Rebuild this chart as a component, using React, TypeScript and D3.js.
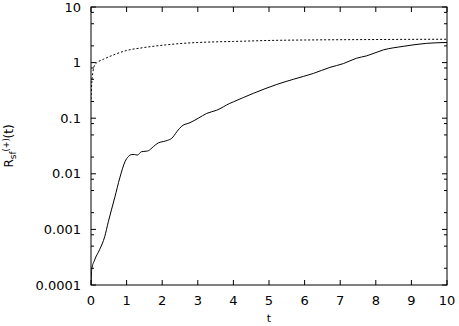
import React from "react";
import * as d3 from "d3";

const xTicks = [0, 1, 2, 3, 4, 5, 6, 7, 8, 9, 10];
const yTicks = [0.0001, 0.001, 0.01, 0.1, 1, 10];
const yTickLabels = ["0.0001", "0.001", "0.01", "0.1", "1", "10"];
const minorMultipliers = [2, 5, 8];

const dashedT = [0, 0.02, 0.05, 0.1, 0.2, 0.35, 0.6, 1, 1.5, 2, 2.5, 3, 3.5, 4, 5, 6, 7, 8, 9, 10];
const dashedV = [0.22, 0.42, 0.65, 0.9, 1.03, 1.15, 1.35, 1.65, 1.87, 2.05, 2.2, 2.3, 2.36, 2.4, 2.5, 2.55, 2.58, 2.6, 2.62, 2.63];

const solidT = [0, 0.02, 0.1, 0.24, 0.385, 0.49, 0.67, 0.81, 0.955, 1.05, 1.15, 1.22, 1.3, 1.42, 1.55, 1.61, 1.75, 1.89, 2.03, 2.15, 2.27, 2.41, 2.55, 2.78, 3.01, 3.25, 3.53, 3.9, 4.0, 4.56, 5.22, 5.68, 6.25, 6.71, 7.09, 7.46, 7.74, 8.21, 8.77, 9.43, 10];
const solidV = [0.0001, 0.00019, 0.00028, 0.00043, 0.00074, 0.0014, 0.0038, 0.0085, 0.0165, 0.0205, 0.0222, 0.0222, 0.0217, 0.025, 0.0255, 0.026, 0.0307, 0.036, 0.038, 0.04, 0.0435, 0.057, 0.072, 0.083, 0.0995, 0.122, 0.139, 0.185, 0.197, 0.28, 0.405, 0.5, 0.64, 0.82, 0.96, 1.2, 1.32, 1.69, 1.96, 2.22, 2.3];

const W = 459;
const H = 326;
const L = 91;
const R = 447;
const T = 7;
const B = 285;
const FONT = "DejaVu Sans, sans-serif";

export default function App() {
  const x = d3.scaleLinear().domain([0, 10]).range([L, R]);
  const y = d3.scaleLog().domain([0.0001, 10]).range([B, T]);

  const line = d3
    .line<[number, number]>()
    .x((d) => x(d[0]))
    .y((d) => y(d[1]))
    .curve(d3.curveMonotoneX);

  const dashedPts = dashedT.map((t, i) => [t, dashedV[i]] as [number, number]);
  const solidPts = solidT.map((t, i) => [t, solidV[i]] as [number, number]);

  const minors: number[] = [];
  yTicks.slice(0, -1).forEach((d) => minorMultipliers.forEach((m) => minors.push(d * m)));

  return (
    <svg
      width={W}
      height={H}
      style={{ position: "absolute", left: 0, top: 0, background: "#fff" }}
      fontFamily={FONT}
      fontSize={13}
    >
      <rect x={0} y={0} width={W} height={H} fill="#fff" />
      <defs>
        <clipPath id="plot">
          <rect x={L} y={T} width={R - L} height={B - T} />
        </clipPath>
      </defs>
      {xTicks.map((t) => (
        <g key={"x" + t}>
          <line x1={x(t)} x2={x(t)} y1={B} y2={B - 5} stroke="#000" strokeWidth={1} />
          <line x1={x(t)} x2={x(t)} y1={T} y2={T + 5} stroke="#000" strokeWidth={1} />
          <text x={x(t)} y={305} textAnchor="middle" fill="#000">
            {t}
          </text>
        </g>
      ))}
      {yTicks.map((v, i) => (
        <g key={"y" + v}>
          <line x1={L} x2={L + 5} y1={y(v)} y2={y(v)} stroke="#000" strokeWidth={1} />
          <line x1={R} x2={R - 5} y1={y(v)} y2={y(v)} stroke="#000" strokeWidth={1} />
          <text x={81} y={y(v) + 4.5} textAnchor="end" fill="#000">
            {yTickLabels[i]}
          </text>
        </g>
      ))}
      {minors.map((v) => (
        <g key={"m" + v}>
          <line x1={L} x2={L + 3} y1={y(v)} y2={y(v)} stroke="#000" strokeWidth={1} />
          <line x1={R} x2={R - 3} y1={y(v)} y2={y(v)} stroke="#000" strokeWidth={1} />
        </g>
      ))}
      <g clipPath="url(#plot)">
        <path d={line(dashedPts) || ""} fill="none" stroke="#000" strokeWidth={1} strokeDasharray="2,2" />
        <path d={line(solidPts) || ""} fill="none" stroke="#000" strokeWidth={1} />
      </g>
      <rect x={L} y={T} width={R - L} height={B - T} fill="none" stroke="#000" strokeWidth={1} />
      <text x={269} y={322} textAnchor="middle" fontSize={11} fill="#000">
        t
      </text>
      <text transform="translate(13,146) rotate(-90)" textAnchor="middle" fontSize={12} fill="#000">
        R
        <tspan fontSize={9} dy={3}>sf</tspan>
        <tspan fontSize={8} dy={-7}>(+)</tspan>
        <tspan dy={4}>(t)</tspan>
      </text>
    </svg>
  );
}
